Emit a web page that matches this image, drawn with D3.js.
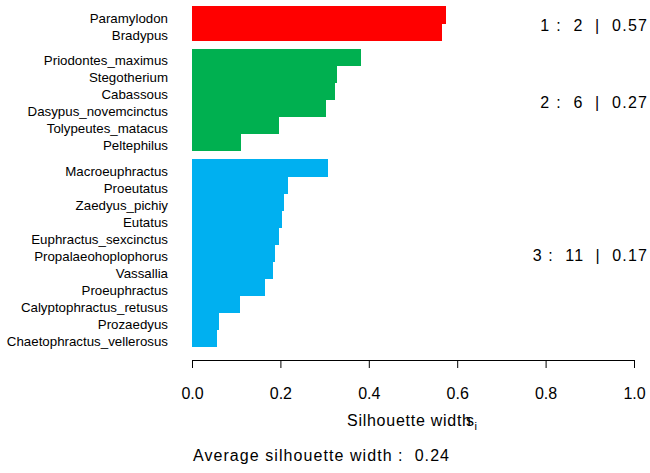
<!DOCTYPE html>
<html>
<head>
<meta charset="utf-8">
<script src="https://cdn.jsdelivr.net/npm/d3@7"></script>
<style>
  body { margin: 0; background: #fff; }
  svg { display: block; font-family: "Liberation Sans", Arial, sans-serif; }
  text { fill: #000; }
</style>
</head>
<body>
<svg class="silplot"></svg>
<script>
// silhouette widths per observation, grouped by cluster (top to bottom)
const names = [
  'Paramylodon', 'Bradypus',
  'Priodontes_maximus', 'Stegotherium', 'Cabassous', 'Dasypus_novemcinctus', 'Tolypeutes_matacus', 'Peltephilus',
  'Macroeuphractus', 'Proeutatus', 'Zaedyus_pichiy', 'Eutatus', 'Euphractus_sexcinctus', 'Propalaeohoplophorus',
  'Vassallia', 'Proeuphractus', 'Calyptophractus_retusus', 'Prozaedyus', 'Chaetophractus_vellerosus'
];
const clusters = [1, 1, 2, 2, 2, 2, 2, 2, 3, 3, 3, 3, 3, 3, 3, 3, 3, 3, 3];
const widths = [
  0.575, 0.566,
  0.382, 0.328, 0.324, 0.303, 0.197, 0.110,
  0.308, 0.217, 0.208, 0.204, 0.197, 0.188, 0.183, 0.165, 0.109, 0.061, 0.057
];
const clusterIds = [1, 2, 3];
const clusterSizes = [2, 6, 11];
const clusterAvg = ['0.57', '0.27', '0.17'];
const clusterColors = ['#ff0000', '#00b050', '#00b0f0'];
const xTicks = [0, 0.2, 0.4, 0.6, 0.8, 1.0];
const avgWidth = '0.24';

const width = 650;
const height = 473;
const sp = '\u00a0';

const svg = d3.select('.silplot')
  .attr('width', width)
  .attr('height', height);

// bar slots: 1 unit per bar, half a unit between clusters (like barplot space)
const slots = [];
let pos = 0;
widths.forEach((w, i) => {
  if (i > 0 && clusters[i] !== clusters[i - 1]) pos += 0.5;
  slots.push(pos);
  pos += 1;
});

const xScale = d3.scaleLinear().domain([0, 1]).range([192, 634]);
const yScale = d3.scaleLinear().domain([0, pos]).range([6, 346.7]);
const color = d3.scaleOrdinal().domain(clusterIds).range(clusterColors);

const data = names.map((n, i) => ({name: n, cl: clusters[i], s: widths[i], slot: slots[i]}));

svg.selectAll('rect.bar').data(data).enter().append('rect')
  .attr('class', 'bar')
  .attr('x', xScale(0))
  .attr('y', d => yScale(d.slot))
  .attr('width', d => xScale(d.s) - xScale(0))
  .attr('height', d => yScale(d.slot + 1) - yScale(d.slot) + 0.5)
  .attr('fill', d => color(d.cl))
  .attr('shape-rendering', 'crispEdges');

svg.selectAll('text.name').data(data).enter().append('text')
  .attr('class', 'name')
  .attr('x', 168)
  .attr('y', d => yScale(d.slot + 0.5) + 8)
  .attr('text-anchor', 'end')
  .style('font-size', '13.3px')
  .text(d => d.name);

// cluster summaries on the right
clusterIds.forEach((c, k) => {
  const members = data.filter(d => d.cl === c);
  const top = yScale(members[0].slot);
  const bot = yScale(members[members.length - 1].slot + 1);
  const label = `${c}${sp}:${sp}${sp}${clusterSizes[k]}${sp}${sp}|${sp}${sp}${clusterAvg[k]}`;
  const t = svg.append('text')
    .attr('x', 647)
    .attr('y', (top + bot) / 2 + 8)
    .attr('text-anchor', 'end')
    .style('font-size', '16px')
    .text(label);
  const natural = t.node().getComputedTextLength();
  t.attr('textLength', natural + 18).attr('lengthAdjust', 'spacing');
});

const xAxis = d3.axisBottom(xScale)
  .tickValues(xTicks)
  .tickFormat(d3.format('.1f'))
  .tickSize(8)
  .tickSizeOuter(0)
  .tickPadding(20);

const ax = svg.append('g')
  .attr('transform', 'translate(0,360)')
  .call(xAxis);
ax.selectAll('text').style('font-size', '16px').attr('fill', '#000')
  .style('font-family', '"Liberation Sans", Arial, sans-serif');
ax.selectAll('path, line').attr('stroke', '#000');

// axis title: "Silhouette width" with s_i drawn over the last letter
const title = svg.append('text')
  .attr('x', 347)
  .attr('y', 426)
  .style('font-size', '16px')
  .attr('textLength', 124)
  .attr('lengthAdjust', 'spacing')
  .text('Silhouette width');
const tEnd = 347 + 124;
const sTxt = svg.append('text')
  .attr('x', tEnd - 5)
  .attr('y', 426)
  .style('font-size', '16px')
  .text('s');
svg.append('text')
  .attr('x', tEnd - 5 + sTxt.node().getComputedTextLength() + 0.5)
  .attr('y', 430)
  .style('font-size', '11px')
  .text('i');

svg.append('text')
  .attr('x', 193)
  .attr('y', 461)
  .style('font-size', '16px')
  .attr('textLength', 256)
  .attr('lengthAdjust', 'spacing')
  .text(`Average silhouette width${sp}:${sp}${sp}${avgWidth}`);
</script>
</body>
</html>
